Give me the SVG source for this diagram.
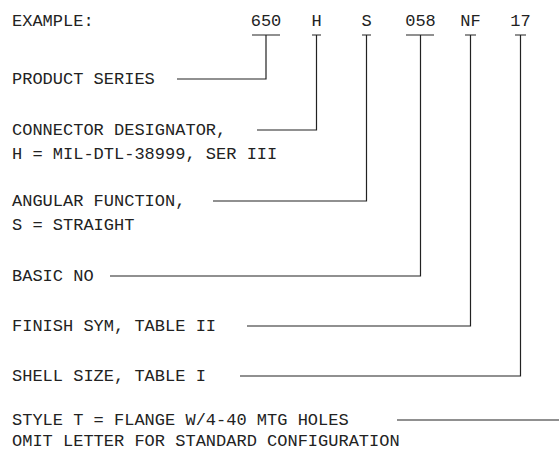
<svg xmlns="http://www.w3.org/2000/svg" width="559" height="451" viewBox="0 0 559 451">
<style>
text{font-family:"Liberation Mono","Courier New",monospace;font-size:17px;fill:#222}
.c{text-anchor:middle}
.ln{fill:none;stroke:#222;stroke-width:1.2}
</style>
<rect width="559" height="451" fill="#fff"/>
<g id="header">
<text x="12" y="26">EXAMPLE:</text>
<text class="c" x="266" y="26">650</text>
<text class="c" x="316.5" y="26">H</text>
<text class="c" x="366.5" y="26">S</text>
<text class="c" x="420.5" y="26">058</text>
<text class="c" x="470.5" y="26">NF</text>
<text class="c" x="520.5" y="26">17</text>
</g>
<g id="product-series"><text x="12" y="84">PRODUCT SERIES</text></g>
<g id="connector-designator"><text x="12" y="135">CONNECTOR DESIGNATOR,</text><text x="12" y="158.5">H = MIL-DTL-38999, SER III</text></g>
<g id="angular-function"><text x="12" y="206">ANGULAR FUNCTION,</text><text x="12" y="229.5">S = STRAIGHT</text></g>
<g id="basic-no"><text x="12" y="281">BASIC NO</text></g>
<g id="finish-sym"><text x="12" y="331">FINISH SYM, TABLE II</text></g>
<g id="shell-size"><text x="12" y="381">SHELL SIZE, TABLE I</text></g>
<g id="style"><text x="12" y="425">STYLE T = FLANGE W/4-40 MTG HOLES</text><text x="12" y="446">OMIT LETTER FOR STANDARD CONFIGURATION</text></g>
<g id="connectors" class="ln">
<path d="M252 35H280M266 35V79H177"/>
<path d="M312 35H321M316.5 35V130H257"/>
<path d="M362 35H371M366.5 35V201H213"/>
<path d="M406 35H434M420.5 35V276H110"/>
<path d="M465 35H476M470.5 35V326H247"/>
<path d="M515 35H526M520.5 35V376H240"/>
<path d="M397 420H559"/>
</g>
</svg>
